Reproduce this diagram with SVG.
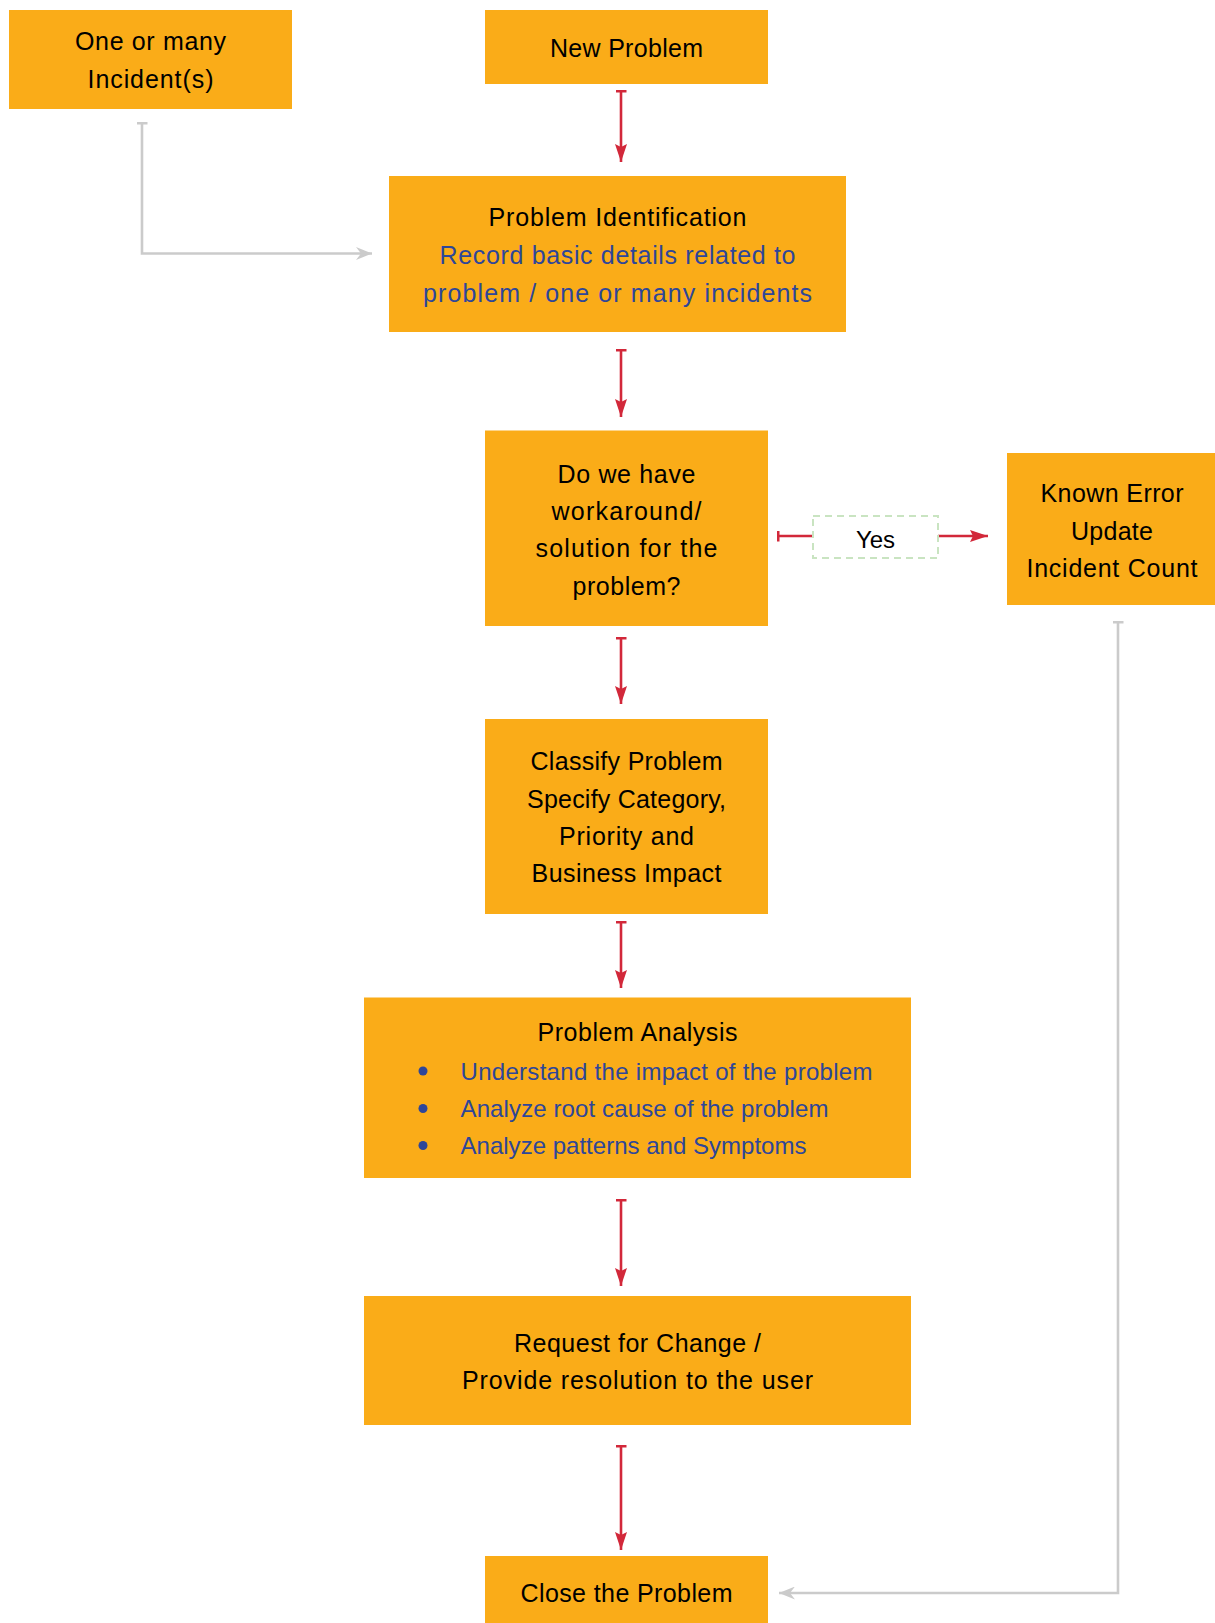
<svg xmlns="http://www.w3.org/2000/svg" width="1215" height="1623" viewBox="0 0 1215 1623">
<style>
.box{fill:#FAAC18;}
.t{font-family:"Liberation Sans",Arial,sans-serif;font-size:25px;fill:#000;text-anchor:middle;}
.b{fill:#2E4699;}
.s{text-anchor:start;font-size:24px;}
.red{stroke:#D2283A;stroke-width:2.6;fill:none;marker-start:url(#teeR);marker-end:url(#arrR);}
.gray{stroke:#CBCBCB;stroke-width:2.6;fill:none;marker-start:url(#teeG);marker-end:url(#arrG);}
</style>
<defs>
<marker id="arrR" viewBox="0 0 18 12" refX="18" refY="6" markerWidth="18" markerHeight="12" orient="auto" markerUnits="userSpaceOnUse"><path d="M0,0 L18,6 L0,12 L3,6 z" fill="#D2283A"/></marker>
<marker id="teeR" viewBox="0 0 3 11" refX="1.5" refY="5.5" markerWidth="3" markerHeight="11" orient="auto" markerUnits="userSpaceOnUse"><rect x="0" y="0" width="3" height="11" fill="#D2283A"/></marker>
<marker id="arrG" viewBox="0 0 16 13" refX="16" refY="6.5" markerWidth="16" markerHeight="13" orient="auto" markerUnits="userSpaceOnUse"><path d="M0,0 L16,6.5 L0,13 L5,6.5 z" fill="#CBCBCB"/></marker>
<marker id="teeG" viewBox="0 0 3 11" refX="1.5" refY="5.5" markerWidth="3" markerHeight="11" orient="auto" markerUnits="userSpaceOnUse"><rect x="0" y="0" width="3" height="11" fill="#CBCBCB"/></marker>
</defs>
<rect width="1215" height="1623" fill="#fff"/>
<g id="connectors">
<path class="gray" d="M142,123 L142,253.5 L372,253.5"/>
<path class="red" d="M621,91 L621,162"/>
<path class="red" d="M621,350 L621,417"/>
<path class="red" d="M621,638 L621,704"/>
<path class="red" d="M621,922 L621,988"/>
<path class="red" d="M621,1200 L621,1286"/>
<path class="red" d="M621,1446 L621,1550"/>
<path d="M778,536 L813,536" stroke="#D2283A" stroke-width="2.6" marker-start="url(#teeR)"/>
<path d="M938,536 L988,536" stroke="#D2283A" stroke-width="2.6" marker-end="url(#arrR)"/>
<path class="gray" d="M1118,622 L1118,1593 L779,1593"/>
<g id="yes-label">
<rect x="813" y="516" width="125" height="42" fill="#fff" stroke="#C9E4C1" stroke-width="2" stroke-dasharray="7,5"/>
<text class="t" x="875.5" y="548" style="font-size:24px">Yes</text>
</g>
</g>
<g id="incidents">
<rect class="box" x="9" y="10" width="283" height="99"/>
<text class="t" x="150.5" y="50" textLength="151">One or many</text>
<text class="t" x="150.5" y="88" textLength="126">Incident(s)</text>
</g>
<g id="new-problem">
<rect class="box" x="485" y="10" width="283" height="74"/>
<text class="t" x="626.5" y="56.5" textLength="153">New Problem</text>
</g>
<g id="identification">
<rect class="box" x="389" y="176" width="457" height="156"/>
<text class="t" x="617.5" y="226" textLength="258">Problem Identification</text>
<text class="t b" x="617.5" y="264" textLength="356">Record basic details related to</text>
<text class="t b" x="617.5" y="301.5" textLength="389">problem / one or many incidents</text>
</g>
<g id="decision">
<rect class="box" x="485" y="430.5" width="283" height="195.5"/>
<text class="t" x="626.5" y="482.5" textLength="138">Do we have</text>
<text class="t" x="626.5" y="520" textLength="150">workaround/</text>
<text class="t" x="626.5" y="557" textLength="182">solution for the</text>
<text class="t" x="626.5" y="594.5" textLength="108">problem?</text>
</g>
<g id="known-error">
<rect class="box" x="1007" y="453" width="208" height="152"/>
<text class="t" x="1112" y="502" textLength="143">Known Error</text>
<text class="t" x="1112" y="539.5" textLength="82">Update</text>
<text class="t" x="1112" y="577" textLength="171">Incident Count</text>
</g>
<g id="classify">
<rect class="box" x="485" y="719" width="283" height="195"/>
<text class="t" x="626.5" y="770" textLength="192">Classify Problem</text>
<text class="t" x="626.5" y="807.5" textLength="199">Specify Category,</text>
<text class="t" x="626.5" y="844.5" textLength="135">Priority and</text>
<text class="t" x="626.5" y="882" textLength="190">Business Impact</text>
</g>
<g id="analysis">
<rect class="box" x="364" y="997.5" width="547" height="180.5"/>
<text class="t" x="637.5" y="1041" textLength="200">Problem Analysis</text>
<circle cx="423" cy="1071" r="4.5" fill="#2E4699"/>
<circle cx="423" cy="1108.5" r="4.5" fill="#2E4699"/>
<circle cx="423" cy="1145.5" r="4.5" fill="#2E4699"/>
<text class="t b s" x="460.5" y="1079.5" textLength="412">Understand the impact of the problem</text>
<text class="t b s" x="460.5" y="1117" textLength="368">Analyze root cause of the problem</text>
<text class="t b s" x="460.5" y="1154" textLength="346">Analyze patterns and Symptoms</text>
</g>
<g id="request">
<rect class="box" x="364" y="1296" width="547" height="129"/>
<text class="t" x="637.5" y="1351.5" textLength="247">Request for Change /</text>
<text class="t" x="637.5" y="1389" textLength="351">Provide resolution to the user</text>
</g>
<g id="close">
<rect class="box" x="485" y="1556" width="283" height="67"/>
<text class="t" x="626.5" y="1602" textLength="212">Close the Problem</text>
</g>
</svg>
